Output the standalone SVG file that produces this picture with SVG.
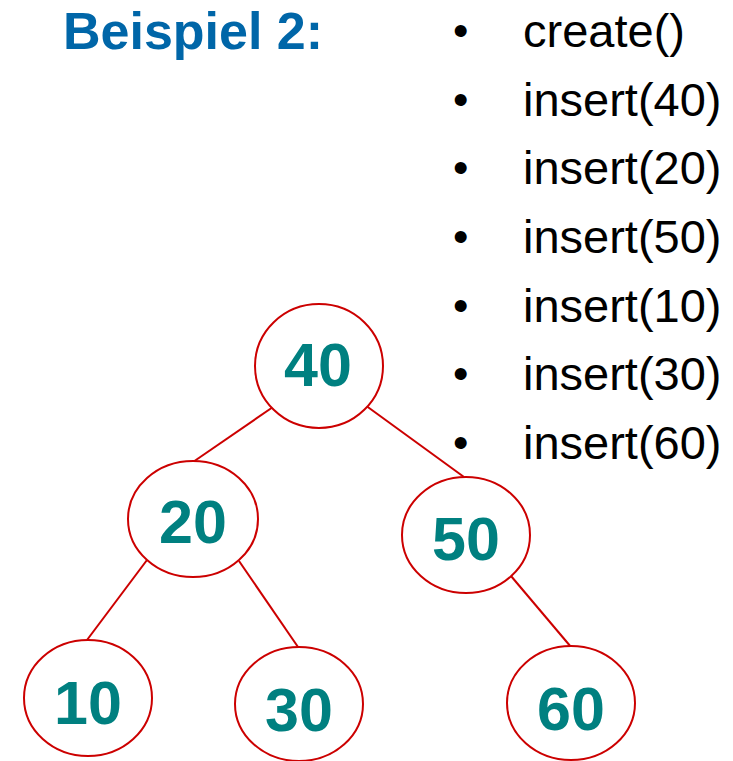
<svg xmlns="http://www.w3.org/2000/svg" width="733" height="761" viewBox="0 0 733 761">
<style>
.node ellipse{fill:#fff;stroke:#CC0000;stroke-width:2}
.node text{font-family:"Liberation Sans",Arial,sans-serif;font-weight:bold;font-size:61px;fill:#008080;text-anchor:middle}
.edge{stroke:#CC0000;stroke-width:2;fill:none}
.title{font-family:"Liberation Sans",Arial,sans-serif;font-weight:bold;font-size:52px;fill:#0066A8}
.item{font-family:"Liberation Sans",Arial,sans-serif;font-size:47px;fill:#000}
.bullet{font-family:"Liberation Sans",Arial,sans-serif;font-size:44px;fill:#000}
</style>
<rect width="733" height="761" fill="#fff"/>
<text class="title" x="63" y="49">Beispiel 2:</text>
<g id="list">
<text class="bullet" x="453" y="46">•</text><text class="item" x="523" y="47">create()</text>
<text class="bullet" x="453" y="115">•</text><text class="item" x="523" y="116">insert(40)</text>
<text class="bullet" x="453" y="183">•</text><text class="item" x="523" y="184">insert(20)</text>
<text class="bullet" x="453" y="252">•</text><text class="item" x="523" y="253">insert(50)</text>
<text class="bullet" x="453" y="321">•</text><text class="item" x="523" y="322">insert(10)</text>
<text class="bullet" x="453" y="389">•</text><text class="item" x="523" y="390">insert(30)</text>
<text class="bullet" x="453" y="458">•</text><text class="item" x="523" y="459">insert(60)</text>
</g>
<g id="connectors">
<line class="edge" x1="273" y1="407" x2="193" y2="462"/>
<line class="edge" x1="365" y1="405" x2="464" y2="477"/>
<line class="edge" x1="147" y1="560" x2="87" y2="640"/>
<line class="edge" x1="239" y1="561" x2="298" y2="647"/>
<line class="edge" x1="511" y1="576" x2="571" y2="647"/>
</g>
<g id="n40" class="node"><ellipse cx="319" cy="366" rx="64" ry="62"/><text x="318" y="386">40</text></g>
<g id="n20" class="node"><ellipse cx="193" cy="519" rx="65" ry="58"/><text x="193" y="543">20</text></g>
<g id="n50" class="node"><ellipse cx="466" cy="535" rx="64" ry="58"/><text x="466" y="560">50</text></g>
<g id="n10" class="node"><ellipse cx="88" cy="698" rx="64" ry="58"/><text x="88" y="724">10</text></g>
<g id="n30" class="node"><ellipse cx="299" cy="704" rx="64" ry="57"/><text x="299" y="731">30</text></g>
<g id="n60" class="node"><ellipse cx="571" cy="703" rx="64" ry="57"/><text x="571" y="730">60</text></g>
</svg>
